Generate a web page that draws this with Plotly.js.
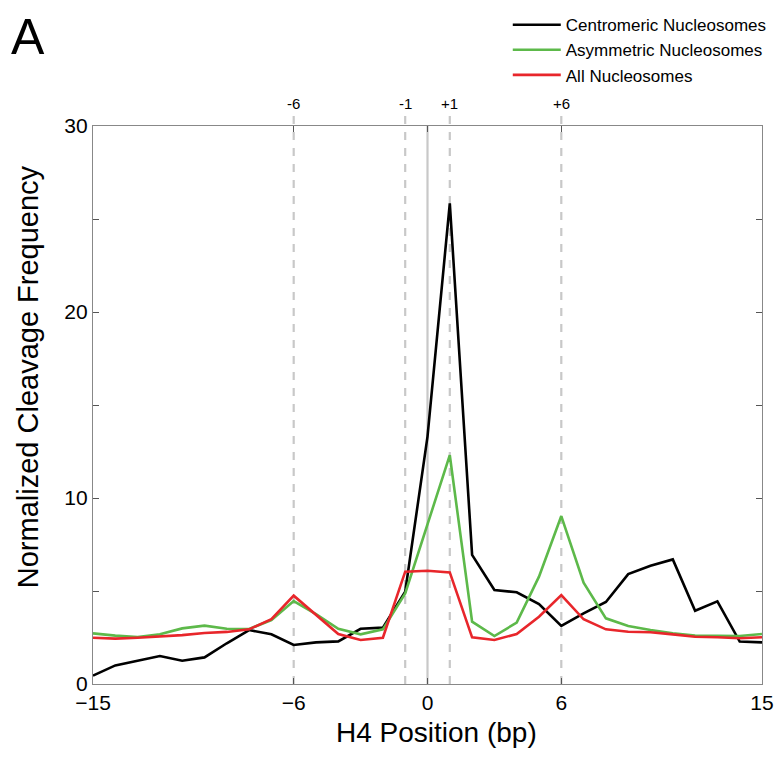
<!DOCTYPE html>
<html>
<head>
<meta charset="utf-8">
<script src="https://cdn.plot.ly/plotly-3.0.1.min.js"></script>
<style>html,body{margin:0;padding:0;background:#fff;} #chart{width:779px;height:757px;}</style>
</head>
<body>
<div id="chart"></div>
<script>
const positions = [-15,-14,-13,-12,-11,-10,-9,-8,-7,-6,-5,-4,-3,-2,-1,0,1,2,3,4,5,6,7,8,9,10,11,12,13,14,15];
const centromeric = [0.45,1.0,1.25,1.5,1.25,1.43,2.19,2.9,2.67,2.1,2.24,2.29,2.97,3.03,4.96,13.3,25.84,6.94,5.05,4.93,4.3,3.12,3.8,4.41,5.91,6.36,6.7,3.94,4.44,2.28,2.24];
const asymmetric = [2.72,2.6,2.53,2.67,2.99,3.14,2.97,2.96,3.44,4.46,3.76,2.97,2.67,2.94,4.87,8.6,12.3,3.35,2.58,3.3,5.77,9.03,5.45,3.53,3.12,2.9,2.72,2.6,2.58,2.58,2.69];
const allNuc = [2.49,2.44,2.49,2.54,2.63,2.74,2.8,2.94,3.49,4.75,3.71,2.69,2.37,2.49,6.04,6.09,6.0,2.51,2.37,2.69,3.62,4.78,3.48,2.94,2.81,2.78,2.67,2.54,2.51,2.46,2.51];
const seriesNames = ["Centromeric Nucleosomes","Asymmetric Nucleosomes","All Nucleosomes"];
const xTicks = [-15,-6,0,6,15];
const yTicks = [0,5,10,15,20,25,30];
const yTickLabels = ['0','','10','','20','','30'];
const markerPositions = [-6,-1,1,6];
const markerLabels = ["-6","-1","+1","+6"];
const xTitle = 'H4 Position (bp)';
const yTitle = 'Normalized Cleavage Frequency';

const FONT = 'Liberation Sans, Arial, sans-serif';
const colors = ["#000000","#5db94a","#e8262b"];
const ys = [centromeric, asymmetric, allNuc];
const traces = ys.map((y,i)=>({
  x: positions, y: y, type:'scatter', mode:'lines', name: seriesNames[i],
  line:{color:colors[i], width:2.6}
}));

const shapes = markerPositions.map(p=>({
  type:'line', xref:'x', yref:'paper', x0:p, x1:p, y0:0, y1:1.03,
  line:{color:'#c8c8c8', width:2.2, dash:'8px,8px'}, layer:'below'
}));
shapes.push({type:'line', xref:'x', yref:'paper', x0:0, x1:0, y0:0, y1:1,
  line:{color:'#c8c8c8', width:2.2}, layer:'below'});

const annotations = markerPositions.map((p,i)=>({
  x:p, xref:'x', y:1.021, yref:'paper', yanchor:'bottom', xanchor:'center',
  text:markerLabels[i], showarrow:false, font:{family:FONT, size:15, color:'#000'}
}));
annotations.push({x:-0.125, xref:'paper', y:1.16, yref:'paper', xanchor:'left', yanchor:'middle',
  text:'A', showarrow:false, font:{family:FONT, size:50, color:'#000'}});
annotations.push({x:0.514, xref:'paper', y:-0.087, yref:'paper', xanchor:'center', yanchor:'middle',
  text:xTitle, showarrow:false, font:{family:FONT, size:28, color:'#000'}});
annotations.push({x:-0.097, xref:'paper', y:0.55, yref:'paper', xanchor:'center', yanchor:'middle',
  textangle:-90, text:yTitle, showarrow:false, font:{family:FONT, size:29, color:'#000'}});

const fmt = v => v < 0 ? '\u2212' + Math.abs(v) : String(v);

const layout = {
  width:779, height:757,
  margin:{l:93, r:17, t:126, b:73, autoexpand:false},
  paper_bgcolor:'#fff', plot_bgcolor:'#fff',
  font:{family:FONT, color:'#000'},
  showlegend:true,
  legend:{x:0.62, y:1.213, xanchor:'left', yanchor:'top',
    font:{family:'Liberation Sans Narrow, Arial Narrow, ' + FONT, size:17},
    itemwidth:48, bgcolor:'rgba(0,0,0,0)'},
  xaxis:{range:[-15,15], tickvals:xTicks, ticktext:xTicks.map(fmt), ticks:'inside', ticklen:6,
    tickcolor:'#555', showline:true, linecolor:'#888', linewidth:1.2, mirror:'ticks',
    showgrid:false, zeroline:false, tickfont:{size:21}},
  yaxis:{range:[0,30], tickvals:yTicks, ticktext:yTickLabels, ticks:'inside', ticklen:6,
    tickcolor:'#555', showline:true, linecolor:'#888', linewidth:1.2, mirror:'ticks',
    showgrid:false, zeroline:false, tickfont:{size:21}},
  shapes:shapes, annotations:annotations
};
Plotly.newPlot('chart', traces, layout, {displayModeBar:false, staticPlot:true});
</script>
</body>
</html>
